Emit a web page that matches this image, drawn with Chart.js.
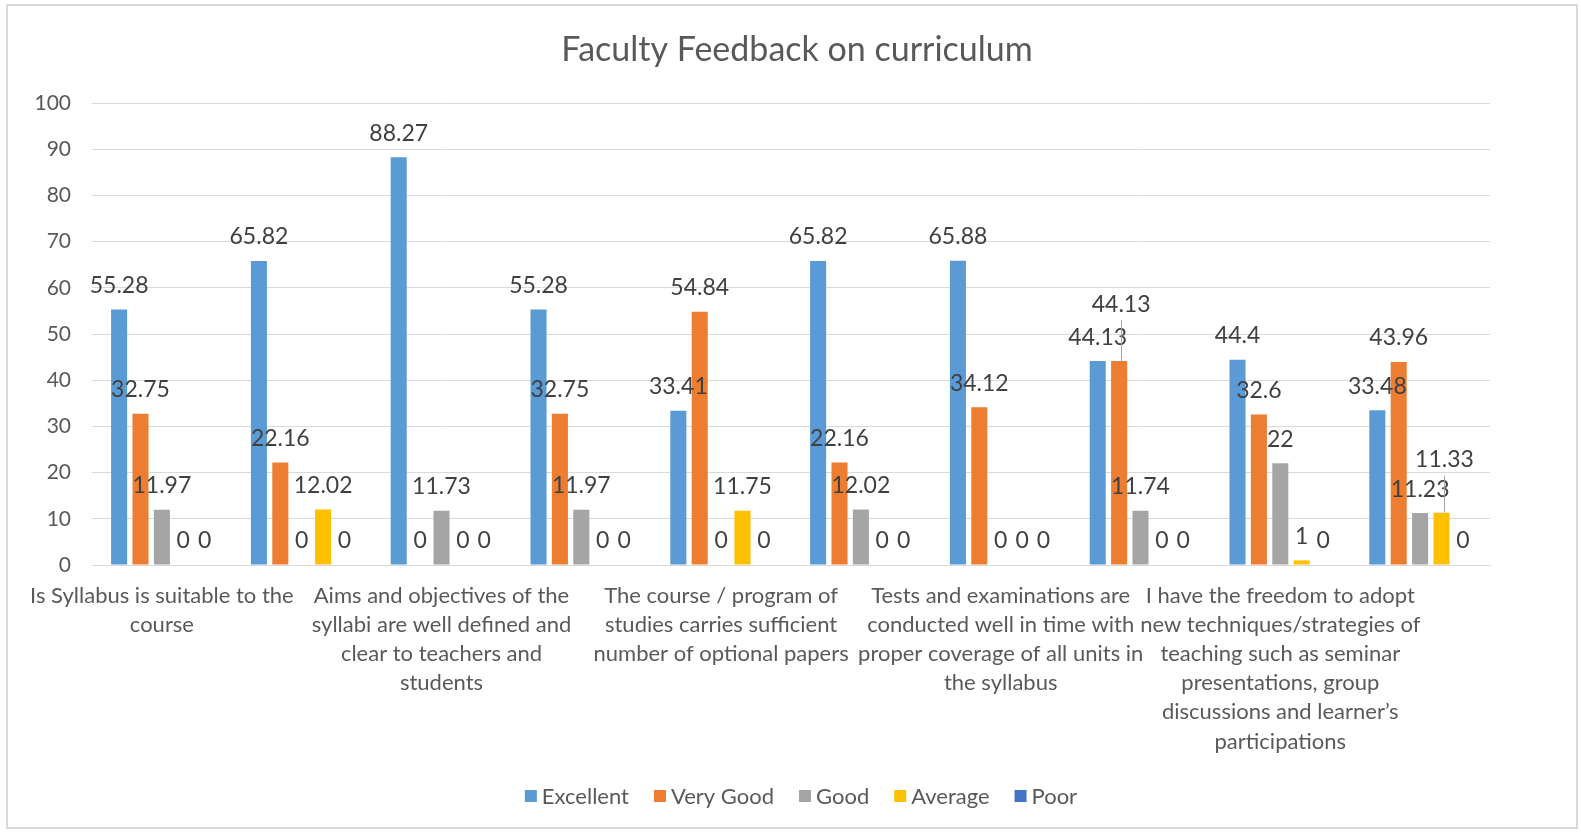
<!DOCTYPE html>
<html>
<head>
<meta charset="utf-8">
<script src="https://cdn.jsdelivr.net/npm/chart.js@4.4.0/dist/chart.umd.min.js"></script>
<style>
  html, body { margin: 0; padding: 0; background: #fff; }
  #wrap { width: 1581px; height: 833px; }
</style>
</head>
<body>
<div id="wrap"><canvas id="chart" width="1581" height="833"></canvas></div>
<script>
// categories: Excel only printed every other one, the rest stay blank
const categories = [
  'Is Syllabus is suitable to the|course',
  '',
  'Aims and objectives of the|syllabi are well defined and|clear to teachers and|students',
  '',
  'The course / program of|studies carries sufficient|number of optional papers',
  '',
  'Tests and examinations are|conducted well in time with|proper coverage of all units in|the syllabus',
  '',
  'I have the freedom to adopt|new techniques/strategies of|teaching such as seminar|presentations, group|discussions and learner\u2019s|participations',
  ''
];
const seriesNames = ['Excellent', 'Very Good', 'Good', 'Average', 'Poor'];
const excellent = [55.28, 65.82, 88.27, 55.28, 33.41, 65.82, 65.88, 44.13, 44.4, 33.48];
const veryGood  = [32.75, 22.16, 0, 32.75, 54.84, 22.16, 34.12, 44.13, 32.6, 43.96];
const good      = [11.97, 0, 11.73, 11.97, 0, 12.02, 0, 11.74, 22, 11.23];
const average   = [0, 12.02, 0, 0, 11.75, 0, 0, 0, 1, 11.33];
const poor      = [0, 0, 0, 0, 0, 0, 0, 0, 0, 0];
const yMin = 0, yMax = 100, yStep = 10;

const colors = ['#5B9BD5', '#ED7D31', '#A5A5A5', '#FFC000', '#4472C4'];
const FONT = 'Lato, "Noto Sans", sans-serif';

// labels that were dragged in the original, with a leader line back to the bar
const labelMoves = {
  '1:7': { dx: 2, dy: -33 },
  '3:9': { dx: 3, dy: -29 }
};

const decor = {
  id: 'decor',
  beforeDraw(chart) {
    const ctx = chart.ctx;
    ctx.save();
    ctx.fillStyle = '#fff';
    ctx.fillRect(0, 0, chart.width, chart.height);
    ctx.strokeStyle = '#d9d9d9';
    ctx.lineWidth = 2;
    ctx.strokeRect(7, 5, 1570, 823);
    ctx.restore();
  },
  afterDatasetsDraw(chart) {
    const ctx = chart.ctx;
    ctx.save();
    ctx.font = '23px ' + FONT;
    ctx.fillStyle = '#404040';
    ctx.textAlign = 'center';
    ctx.textBaseline = 'middle';
    chart.data.datasets.forEach((ds, di) => {
      chart.getDatasetMeta(di).data.forEach((bar, i) => {
        const mv = labelMoves[di + ':' + i];
        let x = bar.x, y = bar.y - 24;
        if (mv) {
          x += mv.dx; y += mv.dy;
          ctx.strokeStyle = '#a6a6a6';
          ctx.lineWidth = 1;
          ctx.beginPath();
          ctx.moveTo(Math.round(x) + 0.5, y + 16);
          ctx.lineTo(Math.round(x) + 0.5, bar.y);
          ctx.stroke();
        }
        ctx.fillText(String(ds.data[i]), x, y);
      });
    });
    ctx.restore();
  },
  afterDraw(chart) {
    const ctx = chart.ctx;
    const area = chart.chartArea;
    const mid = (area.left + area.right) / 2;
    ctx.save();
    // title
    ctx.fillStyle = '#595959';
    ctx.font = '34px ' + FONT;
    ctx.textAlign = 'center';
    ctx.textBaseline = 'middle';
    ctx.fillText('Faculty Feedback on curriculum', mid + 6, 50);
    // legend
    ctx.font = '22px ' + FONT;
    ctx.textAlign = 'left';
    const box = 12, gapBox = 5, gapItem = 25;
    const widths = chart.data.datasets.map(d => box + gapBox + ctx.measureText(d.label).width);
    const total = widths.reduce((a, b) => a + b, 0) + gapItem * (widths.length - 1);
    let x = mid + 10 - total / 2;
    const yc = 796;
    chart.data.datasets.forEach((d, i) => {
      ctx.fillStyle = d.backgroundColor;
      ctx.fillRect(x, yc - box / 2, box, box);
      ctx.fillStyle = '#595959';
      ctx.fillText(d.label, x + box + gapBox, yc + 1);
      x += widths[i] + gapItem;
    });
    ctx.restore();
  }
};

const seriesData = [excellent, veryGood, good, average, poor];

new Chart(document.getElementById('chart'), {
  type: 'bar',
  data: {
    labels: categories,
    datasets: seriesNames.map((name, i) => ({
      label: name,
      data: seriesData[i],
      backgroundColor: colors[i],
      borderWidth: 0,
      barPercentage: 0.75,
      categoryPercentage: 0.765
    }))
  },
  options: {
    responsive: false,
    animation: false,
    devicePixelRatio: 1,
    layout: { padding: { top: 103, left: 0, right: 91, bottom: 58 } },
    plugins: {
      legend: { display: false },
      title: { display: false },
      tooltip: { enabled: false }
    },
    scales: {
      x: {
        grid: { display: false, drawTicks: false },
        border: { display: true, color: '#d9d9d9', width: 1 },
        ticks: {
          autoSkip: false,
          maxRotation: 0,
          minRotation: 0,
          padding: 16,
          color: '#595959',
          font: { family: FONT, size: 22, lineHeight: 1.327 },
          callback: (v, i) => categories[i] ? categories[i].split('|') : ''
        },
        afterFit: (scale) => { scale.height = 210; }
      },
      y: {
        min: yMin,
        max: yMax,
        grid: { color: '#d9d9d9', drawTicks: false },
        border: { display: false },
        ticks: {
          stepSize: yStep,
          padding: 21,
          color: '#595959',
          font: { family: FONT, size: 21 }
        },
        afterFit: (scale) => { scale.width = 92; }
      }
    }
  },
  plugins: [decor]
});
</script>
</body>
</html>
